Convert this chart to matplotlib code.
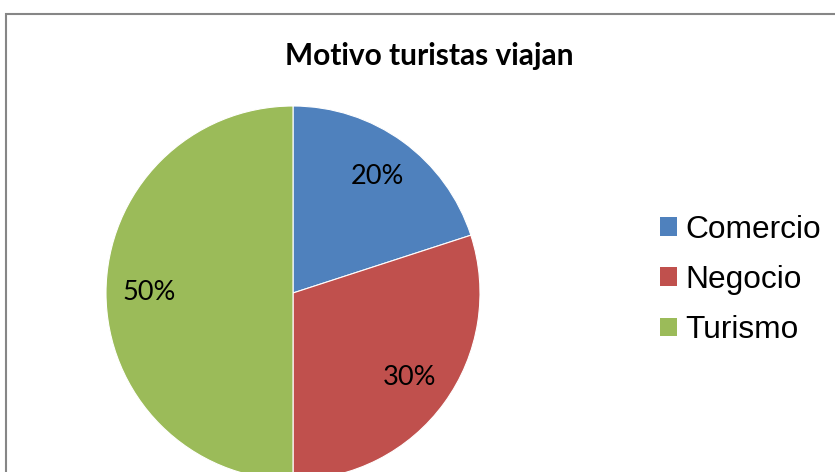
import matplotlib
matplotlib.use('Agg')
from matplotlib import pyplot as plt
from matplotlib.patches import Rectangle, Patch

# data
categories = ['Comercio', 'Negocio', 'Turismo']
shares = [20, 30, 50]
colors = ['#4F81BD', '#C0504D', '#9BBB59']
title = 'Motivo turistas viajan'

W, H = 835, 472
fig = plt.figure(figsize=(W / 100, H / 100), dpi=100)

# chart border (right and bottom run off the picture)
fig.patches.append(Rectangle((5.5 / W, -0.1), 2.0, 1 - 13.5 / H + 0.1,
                             transform=fig.transFigure, fill=False,
                             edgecolor='#868686', linewidth=1.5))

# pie axes: centre (293, 293) px, radius 187 px
cx, cy, r = 293, H - 293, 187
ax = fig.add_axes([(cx - r) / W, (cy - r) / H, 2 * r / W, 2 * r / H])
wedges, texts, autotexts = ax.pie(
    shares, colors=colors, startangle=90, counterclock=False,
    autopct='%1.0f%%', pctdistance=0.77,
    wedgeprops=dict(linewidth=0.8, edgecolor='white'),
    textprops=dict(fontsize=19.5, family='Lato', color='black'))
ax.set_aspect('equal')
ax.set_xlim(-1, 1)
ax.set_ylim(-1, 1)
ax.axis('off')

fig.text(429 / W, 1 - 56 / H, title, ha='center', va='center',
         fontsize=21.5, fontweight='bold', family='Lato')

handles = [Patch(facecolor=c, label=l) for c, l in zip(colors, categories)]
fig.legend(handles=handles, loc='center left', bbox_to_anchor=(660 / W, 1 - 280 / H),
           frameon=False, prop=dict(family='Liberation Sans', size=22.8),
           borderaxespad=0, borderpad=0,
           handlelength=0.53, handleheight=0.53, handletextpad=0.28, labelspacing=0.64)

plt.savefig('out.png', dpi=100)
